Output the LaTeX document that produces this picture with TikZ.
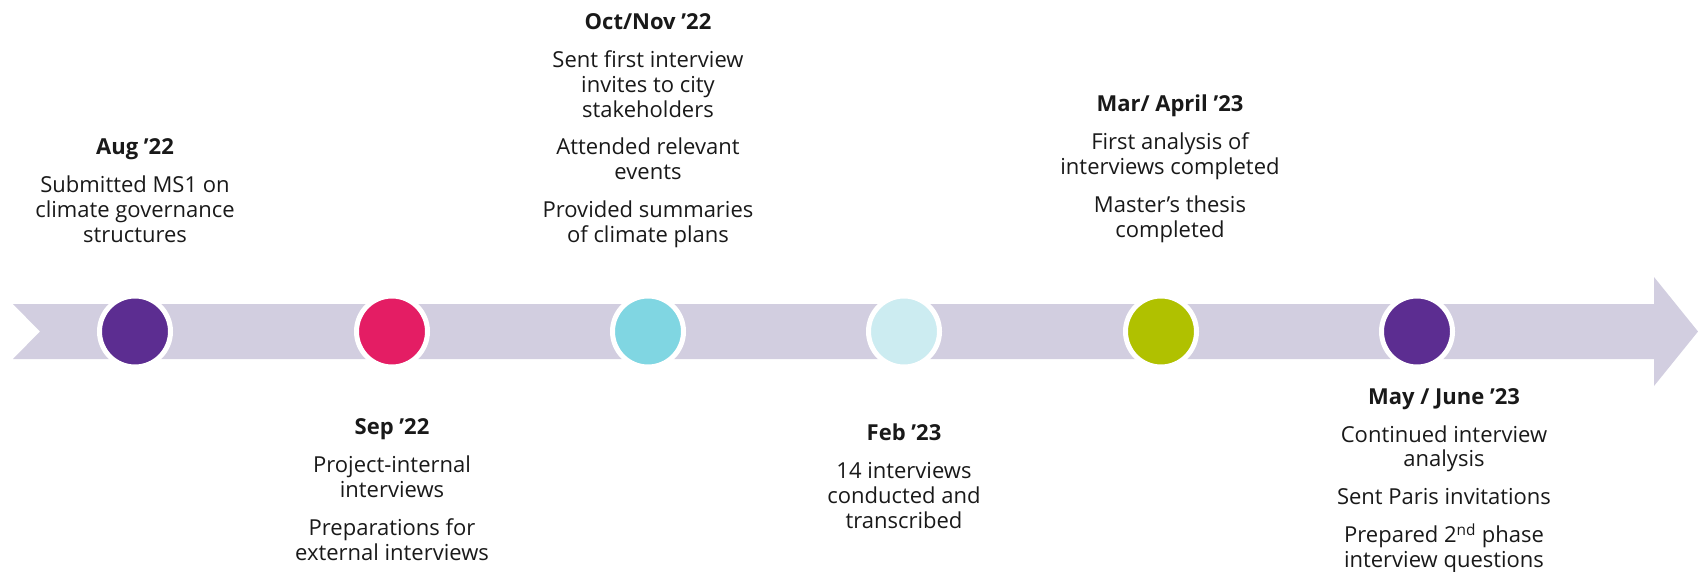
\documentclass[tikz,border=0pt]{standalone}
\usepackage{fontspec}
\setmainfont{Open Sans}
\definecolor{band}{RGB}{210,206,224}
\definecolor{mspurple}{RGB}{92,45,145}
\definecolor{mspink}{RGB}{228,29,100}
\definecolor{mscyan}{RGB}{128,214,226}
\definecolor{mspale}{RGB}{204,236,241}
\definecolor{mslime}{RGB}{176,193,0}
\tikzset{
  milestone/.style={circle, minimum size=71pt, inner sep=0pt, draw=white, line width=5pt, fill=#1},
  % anchored at the baseline of the last line of each block
  event/.style={anchor=base, align=center, inner sep=0pt, text=black!90,
    font=\fontsize{22}{24.9}\selectfont},
}
\newcommand{\pgap}{\\[13pt]}
\begin{document}
\begin{tikzpicture}[x=1pt, y=-1pt]
\useasboundingbox (0,0) rectangle (1698,571);
% timeline band with notched tail and arrow head
\fill[band] (13,304) -- (1654,304) -- (1654,277) -- (1698,331.5) -- (1654,386)
  -- (1654,359) -- (13,359) -- (40,331.5) -- cycle;
% milestones
\node[milestone=mspurple] (m1) at (135,331.5) {};
\node[milestone=mspink]   (m2) at (392,331.5) {};
\node[milestone=mscyan]   (m3) at (648,331.5) {};
\node[milestone=mspale]   (m4) at (904,331.5) {};
\node[milestone=mslime]   (m5) at (1161,331.5) {};
\node[milestone=mspurple] (m6) at (1417,331.5) {};
% event descriptions
\node[event] (t1) at (135,242.5) {\textbf{Aug ’22}\pgap Submitted MS1 on\\ climate governance\\ structures};
\node[event] (t2) at (392,560.3) {\textbf{Sep ’22}\pgap Project-internal\\ interviews\pgap Preparations for\\ external interviews};
\node[event] (t3) at (648,242.6) {\textbf{Oct/Nov ’22}\pgap Sent first interview\\ invites to city\\ stakeholders\pgap Attended relevant\\ events\pgap Provided summaries\\ of climate plans};
\node[event] (t4) at (904,528) {\textbf{Feb ’23}\pgap 14 interviews\\ conducted and\\ transcribed};
\node[event] (t5) at (1170,237.2) {\textbf{Mar/ April ’23}\pgap First analysis of\\ interviews completed\pgap Master’s thesis\\ completed};
\node[event] (t6) at (1444,567.6) {\textbf{May / June ’23}\pgap Continued interview\\ analysis\pgap Sent Paris invitations\pgap Prepared 2\textsuperscript{nd} phase\\ interview questions};
\end{tikzpicture}
\end{document}
